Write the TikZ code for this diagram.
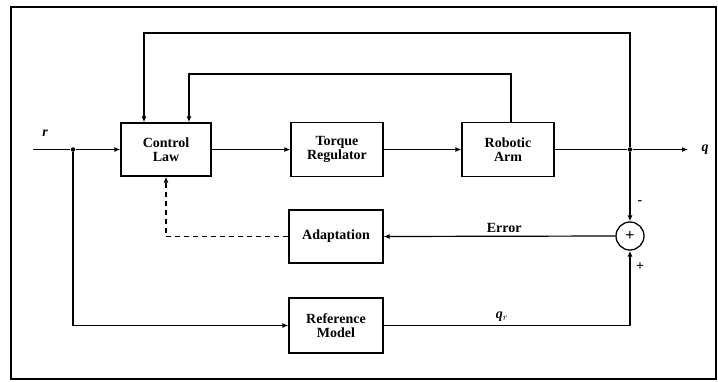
\documentclass[tikz,border=0pt]{standalone}
\usepackage{fontspec}
\setmainfont{Liberation Serif}
\usetikzlibrary{arrows.meta}
\begin{document}
\begin{tikzpicture}[x=1pt,y=-1pt,
  line width=1.2pt,
  blockbox/.style={draw, line width=1.3pt, align=center, font=\fontsize{14}{14.5}\selectfont\bfseries, inner sep=1pt},
  arr/.style={-{Latex[length=6pt,width=5pt]}},
  sig/.style={font=\fontsize{14}{14.5}\selectfont\bfseries},
  sigit/.style={font=\fontsize{14}{14.5}\selectfont\bfseries\itshape},
  dot/.style={circle, fill, inner sep=0pt, minimum size=4.5pt}]
\useasboundingbox (0,0) rectangle (718,381);
\draw[line width=1.3pt] (11,7) rectangle (716,379);
% blocks
\node[blockbox, minimum width=90pt, minimum height=53pt] (cl) at (166,149.5) {Control\\Law};
\node[blockbox, minimum width=92pt, minimum height=54pt] (tr) at (337,149.5) {Torque\\Regulator};
\node[blockbox, minimum width=92pt, minimum height=54pt] (ra) at (508,149.5) {Robotic\\Arm};
\node[blockbox, minimum width=94pt, minimum height=53pt] (ad) at (336,236.5) {Adaptation};
\node[blockbox, minimum width=94pt, minimum height=55pt] (rm) at (336,325.5) {Reference\\Model};
\node[draw, circle, line width=1.3pt, minimum size=28pt, inner sep=0pt, font=\fontsize{16}{16}\selectfont\bfseries] (sum) at (630,236) {+};
% junctions and ends
\coordinate (in) at (33,149.5);
\node[dot] (jr) at (73,149.5) {};
\node[dot] (jq) at (630,149.5) {};
\coordinate (out) at (688,149.5);
% main path
\draw (in) -- (jr);
\draw[arr] (jr) -- (cl.west);
\draw[arr] (cl.east) -- (tr.west);
\draw[arr] (tr.east) -- (ra.west);
\draw (ra.east) -- (jq);
\draw[arr] (jq) -- (out);
\node[sigit] (rl) at (45,133) {r};
\node[sigit] (ql) at (705,150) {q};
% feedback loops
\draw[arr] (jq) -- (630,33) -| ([xshift=-22pt]cl.north);
\draw[arr] ([xshift=3pt]ra.north) |- (189,74) -- ([xshift=23pt]cl.north);
% adaptation
\draw[arr, dash pattern=on 5pt off 4pt] (ad.west) -| (cl.south);
\draw[arr] (sum.west) -- (ad.east) node[pos=0.48, above, sig] (el) {Error};
\draw[arr] (jq) -- (sum.north);
% reference model
\draw[arr] (jr) |- (rm.west);
\draw[arr] (rm.east) -- (630,325.5) node[pos=0.48, above, sigit] (qr) {q$_r$} -- (sum.south);
\node[sig] (mi) at (640,203) {-};
\node[sig] (pl) at (640,267) {+};
\end{tikzpicture}
\end{document}
